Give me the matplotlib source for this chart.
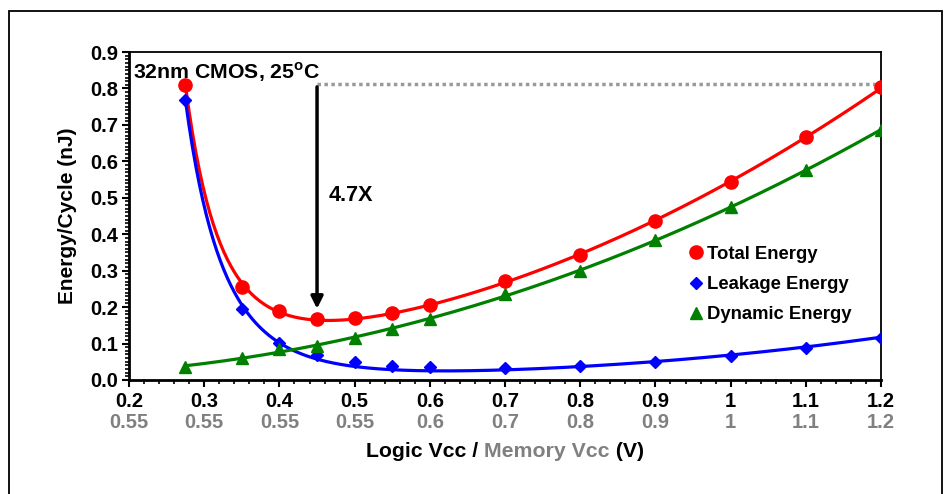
import numpy as np
import matplotlib
matplotlib.use("Agg")
import matplotlib.pyplot as plt
from matplotlib.patches import Rectangle
from matplotlib.offsetbox import TextArea, HPacker, AnchoredOffsetbox
from matplotlib.ticker import MultipleLocator, FormatStrFormatter, NullFormatter

plt.rcParams['font.family'] = ['Liberation Sans', 'DejaVu Sans']
plt.rcParams['font.weight'] = 'bold'
plt.rcParams['mathtext.fontset'] = 'custom'
plt.rcParams['mathtext.bf'] = 'Liberation Sans:bold'
plt.rcParams['mathtext.rm'] = 'Liberation Sans:bold'

# datos
logic_vcc = [0.275, 0.35, 0.4, 0.45, 0.5, 0.55, 0.6, 0.7, 0.8, 0.9, 1.0, 1.1, 1.2]
total_energy = [0.81, 0.256, 0.190, 0.167, 0.170, 0.183, 0.205, 0.273, 0.344, 0.435, 0.542, 0.666, 0.804]
leakage_energy = [0.769, 0.194, 0.101, 0.069, 0.049, 0.039, 0.036, 0.034, 0.039, 0.050, 0.066, 0.089, 0.115]
dynamic_energy = [0.037, 0.060, 0.084, 0.093, 0.116, 0.139, 0.168, 0.235, 0.299, 0.383, 0.476, 0.575, 0.687]

tick_vals = [0.2, 0.3, 0.4, 0.5, 0.6, 0.7, 0.8, 0.9, 1.0, 1.1, 1.2]
logic_labels = ['0.2', '0.3', '0.4', '0.5', '0.6', '0.7', '0.8', '0.9', '1', '1.1', '1.2']
memory_labels = ['0.55', '0.55', '0.55', '0.55', '0.6', '0.7', '0.8', '0.9', '1', '1.1', '1.2']

fig = plt.figure(figsize=(9.44, 4.94), dpi=100)
ax = fig.add_axes([0.1367, 0.2308, 0.9333 - 0.1367, 0.8947 - 0.2308])

# marco exterior
fig.patches.append(Rectangle((9 / 944, -0.05), (942 - 9) / 944, 1.05 - 11 / 494,
                             transform=fig.transFigure, fill=False, lw=1.3, ec='black'))

x = np.array(logic_vcc)
xs = np.linspace(x.min(), x.max(), 400)


def trend(xd, yd, powers, xe):
    # ajuste por minimos cuadrados con potencias de x
    A = np.column_stack([xd ** p for p in powers])
    coef = np.linalg.lstsq(A, np.array(yd), rcond=None)[0]
    return np.column_stack([xe ** p for p in powers]) @ coef


series = [
    (total_energy, 'red', 'o', 9.5, 'Total Energy', [-6, 0, 1, 2]),
    (leakage_energy, 'blue', 'D', 6.5, 'Leakage Energy', [-5.5, 3]),
    (dynamic_energy, 'green', '^', 8.5, 'Dynamic Energy', [0, 1, 2]),
]
for y, c, m, ms, lab, pw in series:
    ax.plot(xs, trend(x, y, pw, xs), color=c, lw=2.3, zorder=2)
for y, c, m, ms, lab, pw in series:
    ax.plot(x, y, linestyle='none', marker=m, color=c, ms=ms, label=lab, zorder=3)

ax.set_xlim(0.2, 1.2)
ax.set_ylim(0.0, 0.9)
ax.xaxis.set_major_locator(MultipleLocator(0.1))
ax.xaxis.set_minor_locator(MultipleLocator(0.02))
ax.yaxis.set_major_locator(MultipleLocator(0.1))
ax.yaxis.set_minor_locator(MultipleLocator(0.01))
ax.yaxis.set_major_formatter(FormatStrFormatter('%.1f'))
ax.xaxis.set_major_formatter(NullFormatter())
ax.tick_params(axis='both', which='major', length=5, width=1.5, direction='out', labelsize=14.5, pad=3)
ax.tick_params(axis='both', which='minor', length=3, width=1.2, direction='out')
for s in ['left', 'bottom']:
    ax.spines[s].set_linewidth(2)
for s in ['top', 'right']:
    ax.spines[s].set_linewidth(1.3)

trans = ax.get_xaxis_transform()
for v, a, b in zip(tick_vals, logic_labels, memory_labels):
    ax.text(v, -0.066, a, transform=trans, ha='center', va='center', fontsize=14.5, color='black')
    ax.text(v, -0.130, b, transform=trans, ha='center', va='center', fontsize=14.5, color='#808080')

ax.set_ylabel('Energy/Cycle (nJ)', fontsize=15, fontweight='bold', labelpad=9)

# etiqueta del eje x en dos colores
parts = [TextArea('Logic Vcc / ', textprops=dict(color='black', fontsize=15.3, fontweight='bold')),
         TextArea('Memory Vcc', textprops=dict(color='#808080', fontsize=15.3, fontweight='bold')),
         TextArea(' (V)', textprops=dict(color='black', fontsize=15.3, fontweight='bold'))]
box = HPacker(children=parts, align='baseline', pad=0, sep=0)
anch = AnchoredOffsetbox(loc='center', child=box, pad=0, frameon=False,
                         bbox_to_anchor=(0.5, -0.218), bbox_transform=ax.transAxes, borderpad=0)
ax.add_artist(anch)

# anotaciones
ax.text(0.205, 0.846, r'32nm CMOS, 25$^{\mathbf{o}}$C', fontsize=15.3, ha='left', va='center')
ax.plot([0.45, 1.2], [0.813, 0.813], linestyle=(0, (1, 1)), color='#999999', lw=2.5, zorder=1)
ax.annotate('', xy=(0.45, 0.188), xytext=(0.45, 0.812),
            arrowprops=dict(arrowstyle='-|>', color='black', lw=2.5, mutation_scale=18))
ax.text(0.465, 0.505, '4.7X', fontsize=15.5, ha='left', va='center')

ax.legend(loc='upper left', bbox_to_anchor=(0.742, 0.409), frameon=False, fontsize=13.3,
          handletextpad=0.1, handlelength=1.0, labelspacing=0.72, borderaxespad=0,
          borderpad=0)

fig.savefig('out.png', dpi=100)
